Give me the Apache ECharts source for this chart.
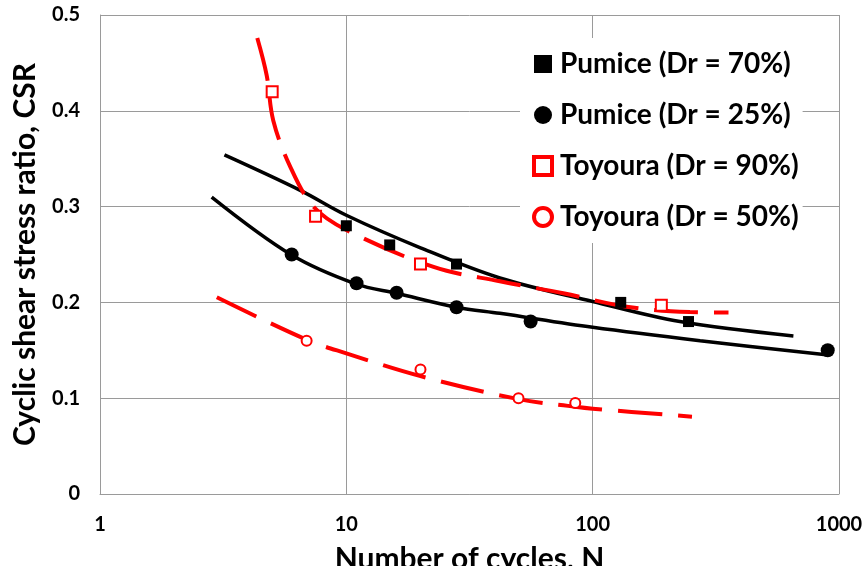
<!DOCTYPE html>
<html>
<head>
<meta charset="utf-8">
<script src="https://cdn.jsdelivr.net/npm/echarts@6/dist/echarts.min.js"></script>
<style>
  html, body { margin: 0; padding: 0; background: #fff; }
  #chart { width: 864px; height: 566px; }
</style>
</head>
<body>
<div id="chart"></div>
<script>
// Measured data points
const pumice70N = [10, 15, 28, 130, 245];
const pumice70CSR = [0.28, 0.26, 0.24, 0.20, 0.18];
const pumice25N = [6, 11, 16, 28, 56, 900];
const pumice25CSR = [0.25, 0.22, 0.21, 0.195, 0.18, 0.15];
const toyoura90N = [5, 7.5, 20, 190];
const toyoura90CSR = [0.42, 0.29, 0.24, 0.197];
const toyoura50N = [6.9, 20, 50, 85];
const toyoura50CSR = [0.16, 0.13, 0.10, 0.095];

// Trend curves
const fit70N = [3.2, 6.5, 10, 20, 42, 100, 226, 653];
const fit70CSR = [0.354, 0.317, 0.291, 0.257, 0.2255, 0.201, 0.180, 0.165];
const fit25N = [2.84, 6, 11, 16, 28, 42, 100, 273, 906];
const fit25CSR = [0.310, 0.2495, 0.219, 0.2095, 0.195, 0.1886, 0.174, 0.160, 0.145];
const fit90N = [4.35, 4.75, 5.05, 5.91, 7.35, 10, 22.6, 42, 76, 137.5, 248, 356];
const fit90CSR = [0.476, 0.437, 0.39, 0.342, 0.300, 0.2756, 0.237, 0.222, 0.2095, 0.1955, 0.190, 0.1895];
const fit50N = [2.98, 6.9, 10, 20, 50, 85, 100, 253];
const fit50CSR = [0.2053, 0.161, 0.1468, 0.123, 0.099, 0.091, 0.089, 0.0807];

const seriesNames = ['Pumice (Dr = 70%)', 'Pumice (Dr = 25%)', 'Toyoura (Dr = 90%)', 'Toyoura (Dr = 50%)'];
const xTitle = 'Number of cycles, N';
const yTitle = 'Cyclic shear stress ratio, CSR';

const zip = (a, b) => a.map((v, i) => [v, b[i]]);
const FONT = 'Lato, "Open Sans", sans-serif';
const RED = '#ff0000';

const chart = echarts.init(document.getElementById('chart'), null, { renderer: 'canvas' });

const fitLine = (xs, ys, color, dashed) => ({
  type: 'line',
  data: zip(xs, ys),
  smooth: 0.35,
  showSymbol: false,
  symbol: 'none',
  silent: true,
  z: 2,
  lineStyle: { color: color, width: dashed ? 4 : 3.5, type: dashed ? [44, 16] : 'solid', opacity: 1 }
});

chart.setOption({
  animation: false,
  backgroundColor: '#fff',
  grid: { left: 100, right: 25, top: 15, bottom: 72, containLabel: false, outerBoundsMode: 'none' },
  xAxis: {
    type: 'log',
    logBase: 10,
    min: 1,
    max: 1000,
    name: xTitle,
    nameLocation: 'middle',
    nameGap: 50,
    nameTextStyle: { fontFamily: FONT, fontWeight: 'bold', fontSize: 30, color: '#000' },
    axisLine: { show: true, lineStyle: { color: '#9a9a9a', width: 1 } },
    axisTick: { show: false },
    minorTick: { show: false },
    axisLabel: {
      fontFamily: FONT, fontWeight: 'bold', fontSize: 20, color: '#000', margin: 21,
      formatter: v => String(v)
    },
    splitLine: { show: true, lineStyle: { color: '#9a9a9a', width: 1 } }
  },
  yAxis: {
    type: 'value',
    min: 0,
    max: 0.5,
    interval: 0.1,
    name: yTitle,
    nameLocation: 'middle',
    nameGap: 60,
    nameRotate: 90,
    nameTextStyle: { fontFamily: FONT, fontWeight: 'bold', fontSize: 30, color: '#000' },
    axisLine: { show: true, lineStyle: { color: '#9a9a9a', width: 1 } },
    axisTick: { show: false },
    axisLabel: { fontFamily: FONT, fontWeight: 'bold', fontSize: 20, color: '#000', margin: 20 },
    splitLine: { show: true, lineStyle: { color: '#9a9a9a', width: 1 } }
  },
  legend: {
    orient: 'vertical',
    left: 520,
    top: 38,
    padding: [11, 4, 11, 12],
    backgroundColor: '#fff',
    itemWidth: 18,
    itemHeight: 18,
    itemGap: 21,
    selectedMode: false,
    textStyle: { fontFamily: FONT, fontWeight: 'bold', fontSize: 28, color: '#000', lineHeight: 30, padding: [0, 0, 0, 3] },
    data: [
      { name: seriesNames[0], icon: 'rect', itemStyle: { color: '#000', borderWidth: 0, opacity: 1 } },
      { name: seriesNames[1], icon: 'circle', itemStyle: { color: '#000', borderWidth: 0, opacity: 1 } },
      { name: seriesNames[2], icon: 'rect', itemStyle: { color: '#fff', borderColor: RED, borderWidth: 4, opacity: 1 } },
      { name: seriesNames[3], icon: 'circle', itemStyle: { color: '#fff', borderColor: RED, borderWidth: 4, opacity: 1 } }
    ]
  },
  series: [
    fitLine(fit70N, fit70CSR, '#000', false),
    fitLine(fit25N, fit25CSR, '#000', false),
    fitLine(fit90N, fit90CSR, RED, true),
    fitLine(fit50N, fit50CSR, RED, true),
    {
      name: seriesNames[0], type: 'scatter', z: 3,
      symbol: 'rect', symbolSize: 11,
      itemStyle: { color: '#000', opacity: 1 },
      data: zip(pumice70N, pumice70CSR)
    },
    {
      name: seriesNames[1], type: 'scatter', z: 3,
      symbol: 'circle', symbolSize: 14,
      itemStyle: { color: '#000', opacity: 1 },
      data: zip(pumice25N, pumice25CSR)
    },
    {
      name: seriesNames[2], type: 'scatter', z: 3,
      symbol: 'rect', symbolSize: 11,
      itemStyle: { color: '#fff', borderColor: RED, borderWidth: 2, opacity: 1 },
      data: zip(toyoura90N, toyoura90CSR)
    },
    {
      name: seriesNames[3], type: 'scatter', z: 3,
      symbol: 'circle', symbolSize: 10,
      itemStyle: { color: '#fff', borderColor: RED, borderWidth: 2, opacity: 1 },
      data: zip(toyoura50N, toyoura50CSR)
    }
  ]
});
</script>
</body>
</html>
